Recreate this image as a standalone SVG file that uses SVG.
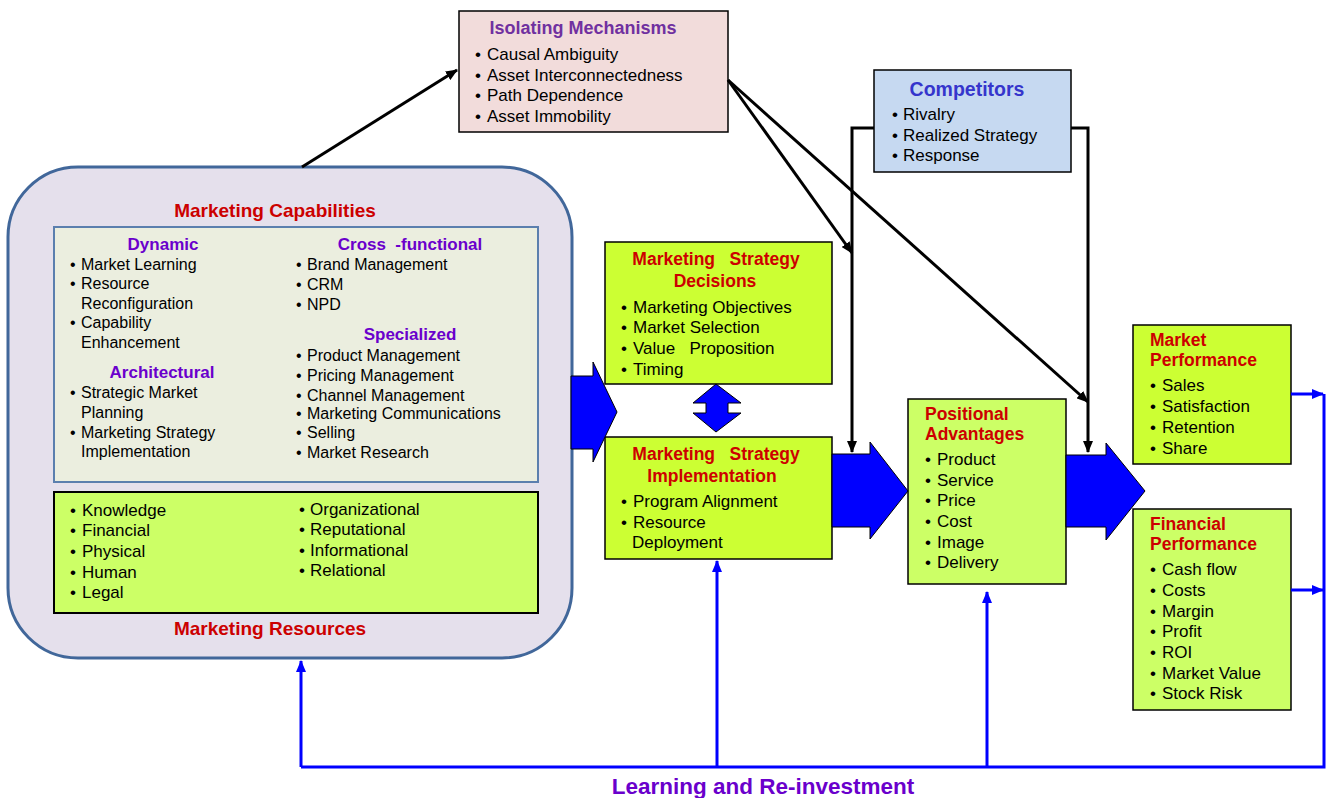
<svg xmlns="http://www.w3.org/2000/svg" width="1327" height="798" viewBox="0 0 1327 798">
<defs>
<style>
text{font-family:"Liberation Sans",Arial,sans-serif;fill:#000;}
.it{font-size:17px;}
.is{font-size:16px;}
.red{font-size:17.5px;font-weight:bold;fill:#cc0000;white-space:pre;}
.big-red{font-size:19px;}
.pur{font-size:17px;font-weight:bold;fill:#6a00cc;white-space:pre;}
.box{stroke:#000;stroke-width:1.5;}
.blk{fill:none;stroke:#000;stroke-width:3;}
.blu{fill:none;stroke:#0000ff;stroke-width:3;}
.big{fill:#0000ff;stroke:#000;stroke-width:1;}
</style>
<marker id="ak" viewBox="0 0 12 10" refX="11" refY="5" markerWidth="12" markerHeight="10" markerUnits="userSpaceOnUse" orient="auto"><path d="M0,0 L12,5 L0,10 Z" fill="#000"/></marker>
<marker id="ab" viewBox="0 0 12 10" refX="11" refY="5" markerWidth="12" markerHeight="10" markerUnits="userSpaceOnUse" orient="auto"><path d="M0,0 L12,5 L0,10 Z" fill="#0000ff"/></marker>
</defs>
<rect width="1327" height="798" fill="#fff"/>

<g id="marketing-capabilities">
<rect x="8" y="167" width="564" height="491" rx="70" fill="#e5e0ec" stroke="#41679a" stroke-width="3"/>
<text x="275" y="217" text-anchor="middle" class="red big-red">Marketing Capabilities</text>
<rect x="54" y="227" width="484" height="255" fill="#ebeedf" stroke="#5b7fae" stroke-width="2"/>
<text x="163" y="250" text-anchor="middle" class="pur">Dynamic</text>
<text class="is" y="270"><tspan x="70">•</tspan><tspan x="81">Market Learning</tspan></text>
<text class="is" y="289"><tspan x="70">•</tspan><tspan x="81">Resource</tspan></text>
<text class="is" x="81" y="309">Reconfiguration</text>
<text class="is" y="328"><tspan x="70">•</tspan><tspan x="81">Capability</tspan></text>
<text class="is" x="81" y="348">Enhancement</text>
<text x="162" y="378" text-anchor="middle" class="pur">Architectural</text>
<text class="is" y="398"><tspan x="70">•</tspan><tspan x="81">Strategic Market</tspan></text>
<text class="is" x="81" y="418">Planning</text>
<text class="is" y="438"><tspan x="70">•</tspan><tspan x="81">Marketing Strategy</tspan></text>
<text class="is" x="81" y="457">Implementation</text>
<text x="410" y="250" text-anchor="middle" class="pur">Cross  -functional</text>
<text class="is" y="270"><tspan x="296">•</tspan><tspan x="307">Brand Management</tspan></text>
<text class="is" y="290"><tspan x="296">•</tspan><tspan x="307">CRM</tspan></text>
<text class="is" y="310"><tspan x="296">•</tspan><tspan x="307">NPD</tspan></text>
<text x="410" y="340" text-anchor="middle" class="pur">Specialized</text>
<text class="is" y="361"><tspan x="296">•</tspan><tspan x="307">Product Management</tspan></text>
<text class="is" y="381"><tspan x="296">•</tspan><tspan x="307">Pricing Management</tspan></text>
<text class="is" y="401"><tspan x="296">•</tspan><tspan x="307">Channel Management</tspan></text>
<text class="is" y="419"><tspan x="296">•</tspan><tspan x="307">Marketing Communications</tspan></text>
<text class="is" y="438"><tspan x="296">•</tspan><tspan x="307">Selling</tspan></text>
<text class="is" y="458"><tspan x="296">•</tspan><tspan x="307">Market Research</tspan></text>
</g>

<g id="marketing-resources">
<rect x="54" y="492" width="484" height="121" fill="#ccff66" stroke="#000" stroke-width="2"/>
<text class="it" y="516"><tspan x="70">•</tspan><tspan x="82">Knowledge</tspan></text>
<text class="it" y="536"><tspan x="70">•</tspan><tspan x="82">Financial</tspan></text>
<text class="it" y="557"><tspan x="70">•</tspan><tspan x="82">Physical</tspan></text>
<text class="it" y="578"><tspan x="70">•</tspan><tspan x="82">Human</tspan></text>
<text class="it" y="598"><tspan x="70">•</tspan><tspan x="82">Legal</tspan></text>
<text class="it" y="515"><tspan x="299">•</tspan><tspan x="310">Organizational</tspan></text>
<text class="it" y="535"><tspan x="299">•</tspan><tspan x="310">Reputational</tspan></text>
<text class="it" y="556"><tspan x="299">•</tspan><tspan x="310">Informational</tspan></text>
<text class="it" y="576"><tspan x="299">•</tspan><tspan x="310">Relational</tspan></text>
<text x="270" y="635" text-anchor="middle" class="red big-red">Marketing Resources</text>
</g>

<g id="isolating-mechanisms">
<rect x="459" y="11" width="269" height="121" fill="#f2dcdb" class="box"/>
<text x="583" y="34" text-anchor="middle" style="font-size:18px;font-weight:bold;fill:#7030a0">Isolating Mechanisms</text>
<text class="it" y="60"><tspan x="475">•</tspan><tspan x="487">Causal Ambiguity</tspan></text>
<text class="it" y="81"><tspan x="475">•</tspan><tspan x="487">Asset Interconnectedness</tspan></text>
<text class="it" y="101"><tspan x="475">•</tspan><tspan x="487">Path Dependence</tspan></text>
<text class="it" y="122"><tspan x="475">•</tspan><tspan x="487">Asset Immobility</tspan></text>
</g>

<g id="competitors">
<rect x="874" y="70" width="197" height="102" fill="#c6d9f1" class="box"/>
<text x="967" y="96" text-anchor="middle" style="font-size:19.5px;font-weight:bold;fill:#3535cc">Competitors</text>
<text class="it" y="120"><tspan x="892">•</tspan><tspan x="903">Rivalry</tspan></text>
<text class="it" y="141"><tspan x="892">•</tspan><tspan x="903">Realized Strategy</tspan></text>
<text class="it" y="161"><tspan x="892">•</tspan><tspan x="903">Response</tspan></text>
</g>

<g id="strategy-decisions">
<rect x="605" y="242" width="227" height="142" fill="#ccff33" class="box"/>
<text x="716" y="265" text-anchor="middle" class="red">Marketing   Strategy</text>
<text x="715" y="287" text-anchor="middle" class="red">Decisions</text>
<text class="it" y="313"><tspan x="621">•</tspan><tspan x="633">Marketing Objectives</tspan></text>
<text class="it" y="333"><tspan x="621">•</tspan><tspan x="633">Market Selection</tspan></text>
<text class="it" y="354" style="white-space:pre"><tspan x="621">•</tspan><tspan x="633">Value   Proposition</tspan></text>
<text class="it" y="375"><tspan x="621">•</tspan><tspan x="633">Timing</tspan></text>
</g>

<g id="strategy-implementation">
<rect x="605" y="437" width="227" height="122" fill="#ccff33" class="box"/>
<text x="716" y="460" text-anchor="middle" class="red">Marketing   Strategy</text>
<text x="712" y="482" text-anchor="middle" class="red">Implementation</text>
<text class="it" y="507"><tspan x="621">•</tspan><tspan x="633">Program Alignment</tspan></text>
<text class="it" y="528"><tspan x="621">•</tspan><tspan x="633">Resource</tspan></text>
<text class="it" x="632" y="548">Deployment</text>
</g>

<g id="positional-advantages">
<rect x="908" y="399" width="158" height="185" fill="#ccff66" class="box"/>
<text x="925" y="420" class="red">Positional</text>
<text x="925" y="440" class="red">Advantages</text>
<text class="it" y="465"><tspan x="925">•</tspan><tspan x="937">Product</tspan></text>
<text class="it" y="486"><tspan x="925">•</tspan><tspan x="937">Service</tspan></text>
<text class="it" y="506"><tspan x="925">•</tspan><tspan x="937">Price</tspan></text>
<text class="it" y="527"><tspan x="925">•</tspan><tspan x="937">Cost</tspan></text>
<text class="it" y="548"><tspan x="925">•</tspan><tspan x="937">Image</tspan></text>
<text class="it" y="568"><tspan x="925">•</tspan><tspan x="937">Delivery</tspan></text>
</g>

<g id="market-performance">
<rect x="1133" y="325" width="158" height="139" fill="#ccff33" class="box"/>
<text x="1150" y="346" class="red">Market</text>
<text x="1150" y="366" class="red">Performance</text>
<text class="it" y="391"><tspan x="1150">•</tspan><tspan x="1162">Sales</tspan></text>
<text class="it" y="412"><tspan x="1150">•</tspan><tspan x="1162">Satisfaction</tspan></text>
<text class="it" y="433"><tspan x="1150">•</tspan><tspan x="1162">Retention</tspan></text>
<text class="it" y="454"><tspan x="1150">•</tspan><tspan x="1162">Share</tspan></text>
</g>

<g id="financial-performance">
<rect x="1133" y="509" width="158" height="201" fill="#ccff66" class="box"/>
<text x="1150" y="530" class="red">Financial</text>
<text x="1150" y="550" class="red">Performance</text>
<text class="it" y="575"><tspan x="1150">•</tspan><tspan x="1162">Cash flow</tspan></text>
<text class="it" y="596"><tspan x="1150">•</tspan><tspan x="1162">Costs</tspan></text>
<text class="it" y="617"><tspan x="1150">•</tspan><tspan x="1162">Margin</tspan></text>
<text class="it" y="637"><tspan x="1150">•</tspan><tspan x="1162">Profit</tspan></text>
<text class="it" y="658"><tspan x="1150">•</tspan><tspan x="1162">ROI</tspan></text>
<text class="it" y="679"><tspan x="1150">•</tspan><tspan x="1162">Market Value</tspan></text>
<text class="it" y="699"><tspan x="1150">•</tspan><tspan x="1162">Stock Risk</tspan></text>
</g>

<g id="connectors">
<polygon class="big" points="571,376 593,376 593,362 617,412 593,462 593,449 571,449"/>
<polygon class="big" points="832,454 870,454 870,442 908,491 870,539 870,527 832,527"/>
<polygon class="big" points="1066,455 1106,455 1106,443 1145,491 1106,540 1106,527 1066,527"/>
<polygon class="big" points="716,384 741,403 728,403 728,413 741,413 716,432 693,413 706,413 706,403 693,403"/>
<line class="blk" x1="302" y1="167" x2="457" y2="70" marker-end="url(#ak)"/>
<line class="blk" x1="728" y1="80" x2="852" y2="253" marker-end="url(#ak)"/>
<line class="blk" x1="728" y1="80" x2="1088" y2="402" marker-end="url(#ak)"/>
<polyline class="blk" points="874,128 852,128 852,452" marker-end="url(#ak)"/>
<polyline class="blk" points="1071,128 1088,128 1088,452" marker-end="url(#ak)"/>
<line class="blu" x1="1291" y1="394" x2="1323" y2="394" marker-end="url(#ab)"/>
<line class="blu" x1="1291" y1="590" x2="1323" y2="590" marker-end="url(#ab)"/>
<polyline class="blu" points="1324,394 1324,767 301,767"/>
<line class="blu" x1="301" y1="767" x2="301" y2="661" marker-end="url(#ab)"/>
<line class="blu" x1="717" y1="767" x2="717" y2="561" marker-end="url(#ab)"/>
<line class="blu" x1="987" y1="767" x2="987" y2="592" marker-end="url(#ab)"/>
<text x="763" y="794" text-anchor="middle" style="font-size:22.5px;font-weight:bold;fill:#6a00cc">Learning and Re-investment</text>
</g>
</svg>
